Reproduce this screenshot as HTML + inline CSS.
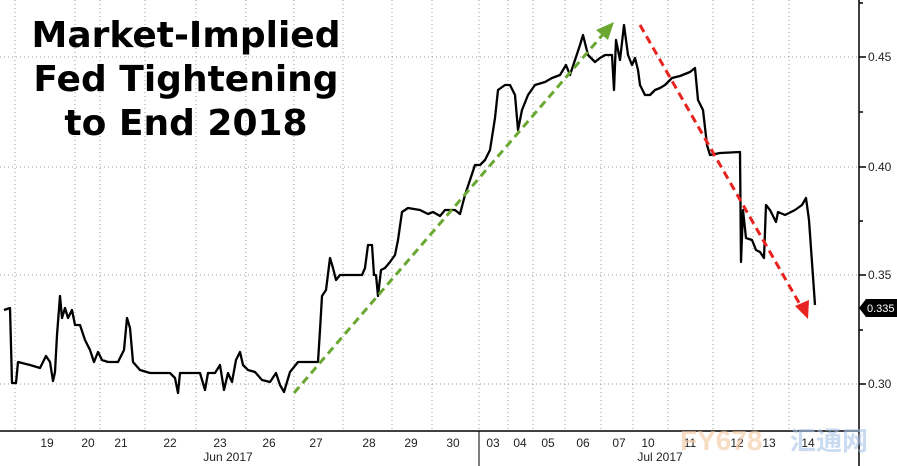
<!DOCTYPE html>
<html><head><meta charset="utf-8"><style>
body{margin:0;background:#fff;}
svg{display:block;font-family:"Liberation Sans","DejaVu Sans",sans-serif;}
</style></head><body>
<svg width="897" height="466" viewBox="0 0 897 466" xmlns="http://www.w3.org/2000/svg">
<rect width="897" height="466" fill="#fff"/>
<g stroke="#999" stroke-width="1" stroke-dasharray="1,3">
<line x1="0" y1="57" x2="859" y2="57"/><line x1="0" y1="167" x2="859" y2="167"/>
<line x1="0" y1="275" x2="859" y2="275"/><line x1="0" y1="384" x2="859" y2="384"/>
<line x1="15" y1="0" x2="15" y2="431"/><line x1="75" y1="0" x2="75" y2="431"/><line x1="100" y1="0" x2="100" y2="431"/>
<line x1="145" y1="0" x2="145" y2="431"/><line x1="196" y1="0" x2="196" y2="431"/><line x1="246" y1="0" x2="246" y2="431"/>
<line x1="294" y1="0" x2="294" y2="431"/><line x1="343" y1="0" x2="343" y2="431"/><line x1="392" y1="0" x2="392" y2="431"/>
<line x1="432" y1="0" x2="432" y2="431"/><line x1="479" y1="0" x2="479" y2="431"/><line x1="508" y1="0" x2="508" y2="431"/>
<line x1="533" y1="0" x2="533" y2="431"/><line x1="565" y1="0" x2="565" y2="431"/><line x1="601" y1="0" x2="601" y2="431"/>
<line x1="633" y1="0" x2="633" y2="431"/><line x1="668" y1="0" x2="668" y2="431"/><line x1="713" y1="0" x2="713" y2="431"/>
<line x1="753" y1="0" x2="753" y2="431"/><line x1="789" y1="0" x2="789" y2="431"/>
</g>
<line x1="0" y1="431" x2="859" y2="431" stroke="#000" stroke-width="1.5"/>
<line x1="859" y1="0" x2="859" y2="466" stroke="#000" stroke-width="1.5"/>
<line x1="479" y1="431" x2="479" y2="466" stroke="#000" stroke-width="1"/>
<g stroke="#000" stroke-width="1.5">
<line x1="859" y1="57" x2="866" y2="57"/><line x1="859" y1="167" x2="866" y2="167"/>
<line x1="859" y1="275" x2="866" y2="275"/><line x1="859" y1="384" x2="866" y2="384"/>
<line x1="859" y1="112" x2="863" y2="112"/><line x1="859" y1="221" x2="863" y2="221"/>
<line x1="859" y1="330" x2="863" y2="330"/><line x1="859" y1="3" x2="863" y2="3"/>
</g>
<g font-size="12" fill="#222">
<text x="868" y="61">0.45</text><text x="868" y="171">0.40</text>
<text x="868" y="279">0.35</text><text x="868" y="388">0.30</text>
</g>
<path d="M859 308 L866 299 L897 299 L897 317 L866 317 Z" fill="#000"/>
<text x="867" y="312" font-size="11" fill="#fff">0.335</text>
<g font-size="12" fill="#222" text-anchor="middle">
<text x="47" y="447">19</text><text x="88" y="447">20</text><text x="121" y="447">21</text>
<text x="170" y="447">22</text><text x="220" y="447">23</text><text x="269" y="447">26</text>
<text x="316" y="447">27</text><text x="369" y="447">28</text><text x="411" y="447">29</text>
<text x="453" y="447">30</text><text x="493" y="447">03</text><text x="520" y="447">04</text>
<text x="548" y="447">05</text><text x="583" y="447">06</text><text x="619" y="447">07</text>
<text x="648" y="447">10</text><text x="690" y="447">11</text><text x="737" y="447">12</text>
<text x="769" y="447">13</text><text x="808" y="447">14</text>
<text x="228" y="461">Jun 2017</text><text x="660" y="461">Jul 2017</text>
</g>
<text x="680" y="450" font-size="28" font-weight="bold" fill="#f5c8a0" opacity="0.6">FY678</text>
<text x="790" y="450" font-size="26" font-weight="bold" fill="#a8c4e8" opacity="0.6" font-family="'Noto Sans CJK SC',sans-serif">汇通网</text>
<path fill="none" stroke="#000" stroke-width="2.3" stroke-linejoin="round" d="
M4 310 L10 308 L12 383 L16 383 L18 362 L30 365 L40 368 L46 356 L50 362 L53 381 L55 372 L57 335 L60 296 L62 318 L65 308 L68 318 L72 310 L75 325 L80 325 L85 340 L90 350 L94 362 L98 352 L102 360 L108 362 L118 362 L124 350 L127 318 L130 328 L133 362 L140 370 L150 373 L170 373 L175 378 L178 393 L180 373 L200 373 L205 390 L208 373 L215 373 L220 365 L224 390 L228 373 L232 382 L236 360 L240 352 L243 365 L248 370 L255 372 L262 380 L270 382 L276 373 L280 385 L284 392 L290 372 L298 362 L310 362 L318 362 L320 330 L322 296 L326 290 L330 258 L333 268 L336 280 L340 275 L345 275 L362 275 L365 268 L368 245 L372 245 L374 275 L376 275 L378 296 L381 270 L385 268 L390 262 L395 255 L398 240 L402 212 L408 208 L420 210 L428 214 L433 212 L440 216 L445 210 L455 210 L460 214 L465 195 L470 180 L475 165 L480 165 L485 160 L490 150 L495 118 L498 90 L505 85 L510 85 L515 95 L518 130 L522 110 L528 95 L535 85 L545 82 L552 78 L560 75 L566 65 L570 75 L575 60 L580 45 L583 35 L588 55 L595 62 L600 58 L605 55 L612 55 L614 90 L616 40 L620 60 L624 25 L628 55 L632 65 L635 58 L638 70 L640 85 L645 95 L650 95 L655 90 L660 88 L665 85 L672 78 L680 76 L690 72 L695 68 L698 100 L703 110 L707 145 L710 155 L720 153 L740 152 L741 262 L743 210 L746 238 L752 240 L756 250 L760 252 L764 258 L766 205 L770 210 L776 222 L778 212 L785 215 L795 210 L802 205 L806 198 L809 220 L815 305"/>
<line x1="294" y1="393" x2="605" y2="32" stroke="#6aa832" stroke-width="3" stroke-dasharray="8,5"/>
<polygon points="614,22 596,30 608,40" fill="#6aa832"/>
<line x1="640" y1="25" x2="802" y2="308" stroke="#e8231f" stroke-width="3" stroke-dasharray="8,5"/>
<polygon points="808,319 795,306 809,300" fill="#e8231f"/>
<g font-family="'DejaVu Sans',sans-serif" font-weight="bold" font-size="36" fill="#000" text-anchor="middle">
<text x="186" y="47">Market-Implied</text>
<text x="186" y="91">Fed Tightening</text>
<text x="186" y="135">to End 2018</text>
</g>
</svg>
</body></html>
